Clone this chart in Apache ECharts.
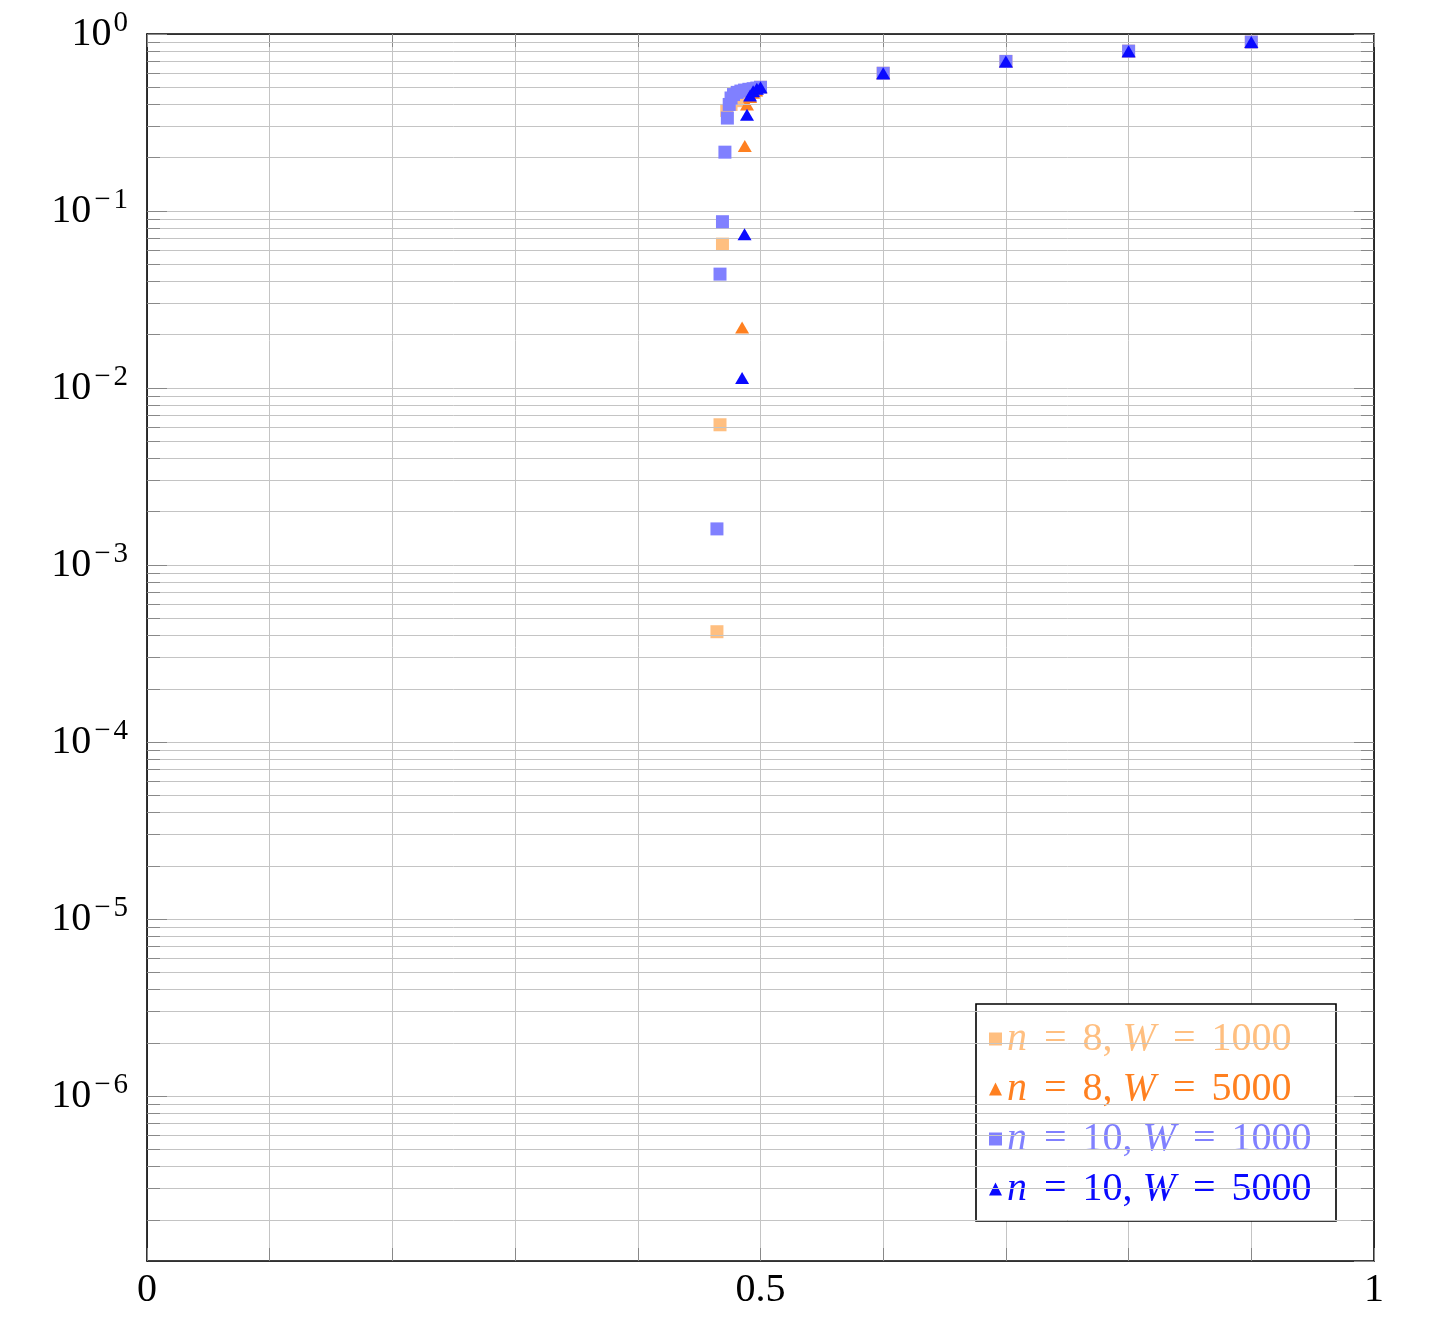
<!DOCTYPE html>
<html>
<head>
<meta charset="utf-8">
<script src="https://cdn.jsdelivr.net/npm/echarts@6/dist/echarts.min.js"></script>
<style>
html,body{margin:0;padding:0;background:#fff;}
#chart{width:1442px;height:1334px;}
</style>
</head>
<body>
<div id="chart"></div>
<script>
// ---- data ----
const seriesNames = ['n = 8, W = 1000', 'n = 8, W = 5000', 'n = 10, W = 1000', 'n = 10, W = 5000'];

const n8W1000X = [0.4645, 0.467, 0.469, 0.4725, 0.476, 0.4815, 0.487, 0.492, 0.496, 0.5, 0.6, 0.7, 0.8, 0.9];
const n8W1000Y = [4.2e-4, 6.2e-3, 0.065, 0.37, 0.40, 0.42, 0.45, 0.47, 0.485, 0.5, 0.6, 0.7, 0.8, 0.9];

const n8W5000X = [0.485, 0.4872, 0.489, 0.4915, 0.494, 0.4965, 0.5, 0.6, 0.7, 0.8, 0.9];
const n8W5000Y = [0.022, 0.233, 0.40, 0.44, 0.465, 0.48, 0.5, 0.6, 0.7, 0.8, 0.9];

const n10W1000X = [0.4645, 0.467, 0.469, 0.471, 0.473, 0.4745, 0.476, 0.478, 0.481, 0.484, 0.487, 0.4905, 0.494, 0.497, 0.5, 0.6, 0.7, 0.8, 0.9];
const n10W1000Y = [1.6e-3, 0.044, 0.087, 0.215, 0.335, 0.40, 0.435, 0.455, 0.468, 0.476, 0.482, 0.487, 0.491, 0.495, 0.5, 0.6, 0.7, 0.8, 0.9];

const n10W5000X = [0.485, 0.487, 0.489, 0.4915, 0.494, 0.497, 0.5, 0.6, 0.7, 0.8, 0.9];
const n10W5000Y = [0.0114, 0.074, 0.35, 0.45, 0.475, 0.49, 0.5, 0.6, 0.7, 0.8, 0.9];

const xTickLabels = ['0', '0.5', '1'];
const yMin = 1.17e-7;
const yMax = 1;

// ---- styles ----
const colors = ['#ffbf80', '#ff8020', '#8080ff', '#0a0aff'];
const symbols = ['rect', 'triangle', 'rect', 'triangle'];
const FONT = '"Liberation Serif", "DejaVu Serif", serif';
const gridColor = '#c4c4c4';
const tickColor = '#888888';

const plotLeft = 147, plotTop = 34, plotW = 1227, plotH = 1227;
const minorTickLen = 13;

function zip(xs, ys) { return xs.map((x, i) => [x, ys[i]]); }
const allData = [zip(n8W1000X, n8W1000Y), zip(n8W5000X, n8W5000Y), zip(n10W1000X, n10W1000Y), zip(n10W5000X, n10W5000Y)];

// minor grid values 2..9 x 10^k
const minorVals = [];
for (let k = -7; k <= -1; k++) {
  for (let m = 2; m <= 9; m++) {
    const v = m * Math.pow(10, k);
    if (v > yMin && v < yMax) minorVals.push(v);
  }
}
const tickDx = minorTickLen / plotW;
const minorLines = [];
minorVals.forEach(v => {
  minorLines.push([{ coord: [0, v] }, { coord: [1, v] }]);
});
const minorTicks = [];
minorVals.forEach(v => {
  minorTicks.push([{ coord: [0, v] }, { coord: [tickDx, v] }]);
  minorTicks.push([{ coord: [1 - tickDx, v] }, { coord: [1, v] }]);
});

function yLabel(value) {
  const l = Math.log10(value);
  const e = Math.round(l);
  if (Math.abs(l - e) > 0.01) return '';
  if (e < 0) return '{b|10}{m|\u2212}{s|' + (-e) + '}';
  return '{b|10}{z|' + e + '}';
}
function xLabel(value) {
  for (const t of xTickLabels) {
    if (Math.abs(value - parseFloat(t)) < 1e-9) return t;
  }
  return '';
}
function legendFmt(name) {
  return name.replace('n', '{i|n}').replace('W', '{i|W}').replace(/ = /g, '{eq|=}').replace(', ', ',{sp| }');
}

const chart = echarts.init(document.getElementById('chart'), null, { renderer: 'canvas' });

const series = [
  {
    type: 'scatter', name: '__grid', data: [], silent: true, z: 1,
    markLine: { silent: true, symbol: 'none', label: { show: false }, animation: false,
      lineStyle: { color: gridColor, width: 1, type: 'solid' }, data: minorLines }
  },
  {
    type: 'scatter', name: '__ticks', data: [], silent: true, z: 1,
    markLine: { silent: true, symbol: 'none', label: { show: false }, animation: false,
      lineStyle: { color: tickColor, width: 1, type: 'solid' }, data: minorTicks }
  }
];
seriesNames.forEach((nm, i) => {
  series.push({
    type: 'scatter', name: nm, data: allData[i], z: 3 + i,
    symbol: symbols[i], symbolSize: symbols[i] === 'rect' ? 13 : [14, 12],
    itemStyle: { color: colors[i], opacity: 1 },
    animation: false
  });
});

const richLegend = {
  i: { fontStyle: 'italic', fontFamily: FONT, fontSize: 40 },
  eq: { fontFamily: FONT, fontSize: 40, padding: [0, 16, 0, 17] },
  sp: { fontFamily: FONT, fontSize: 40, width: 10 }
};

chart.setOption({
  backgroundColor: '#ffffff',
  animation: false,
  grid: { left: plotLeft, top: plotTop, width: plotW, height: plotH, containLabel: false },
  xAxis: [
    {
      type: 'value', min: 0, max: 1, interval: 0.1, position: 'bottom',
      axisLine: { show: true, onZero: false, lineStyle: { color: '#000', width: 1.6 } },
      axisTick: { show: true, inside: true, length: minorTickLen, lineStyle: { color: tickColor } },
      splitLine: { show: true, lineStyle: { color: gridColor, width: 1 } },
      axisLabel: { formatter: xLabel, fontFamily: FONT, fontSize: 40, color: '#000', margin: 9, showMinLabel: true, showMaxLabel: true }
    },
    {
      type: 'value', min: 0, max: 1, interval: 0.1, position: 'top',
      axisLine: { show: true, onZero: false, lineStyle: { color: '#000', width: 1.6 } },
      axisTick: { show: true, inside: true, length: minorTickLen, lineStyle: { color: tickColor } },
      splitLine: { show: false },
      axisLabel: { show: false }
    }
  ],
  yAxis: [
    {
      type: 'log', logBase: 10, min: yMin, max: yMax, position: 'left', splitNumber: 7,
      axisLine: { show: true, onZero: false, lineStyle: { color: '#000', width: 1.6 } },
      axisTick: { show: true, inside: true, length: 20, lineStyle: { color: tickColor } },
      splitLine: { show: true, lineStyle: { color: gridColor, width: 1 } },
      minorTick: { show: false }, minorSplitLine: { show: false },
      axisLabel: {
        formatter: yLabel, showMinLabel: false, margin: 19, color: '#000',
        rich: {
          b: { fontFamily: FONT, fontSize: 40, color: '#000' },
          z: { fontFamily: FONT, fontSize: 29, color: '#000', padding: [0, 0, 22, 2] },
          m: { fontFamily: FONT, fontSize: 29, color: '#000', padding: [0, 3, 22, 3] },
          s: { fontFamily: FONT, fontSize: 29, color: '#000', padding: [0, 0, 22, 0] }
        }
      }
    },
    {
      type: 'log', logBase: 10, min: yMin, max: yMax, position: 'right', splitNumber: 7,
      axisLine: { show: true, onZero: false, lineStyle: { color: '#000', width: 1.6 } },
      axisTick: { show: true, inside: true, length: 20, lineStyle: { color: tickColor } },
      splitLine: { show: false },
      axisLabel: { show: false }
    }
  ],
  legend: {
    orient: 'vertical', left: 976, top: 1004,
    backgroundColor: '#ffffff', borderColor: '#000', borderWidth: 1.6, borderRadius: 0,
    padding: [15, 11, 12, 13], itemGap: 10, itemWidth: 13, itemHeight: 13,
    selectedMode: false,
    data: seriesNames.map((nm, i) => ({ name: nm, icon: symbols[i], textStyle: { color: colors[i] }, itemStyle: { color: colors[i] } })),
    formatter: legendFmt,
    textStyle: { fontFamily: FONT, fontSize: 40, lineHeight: 40, width: 318, rich: richLegend }
  },
  series: series
});
</script>
</body>
</html>
